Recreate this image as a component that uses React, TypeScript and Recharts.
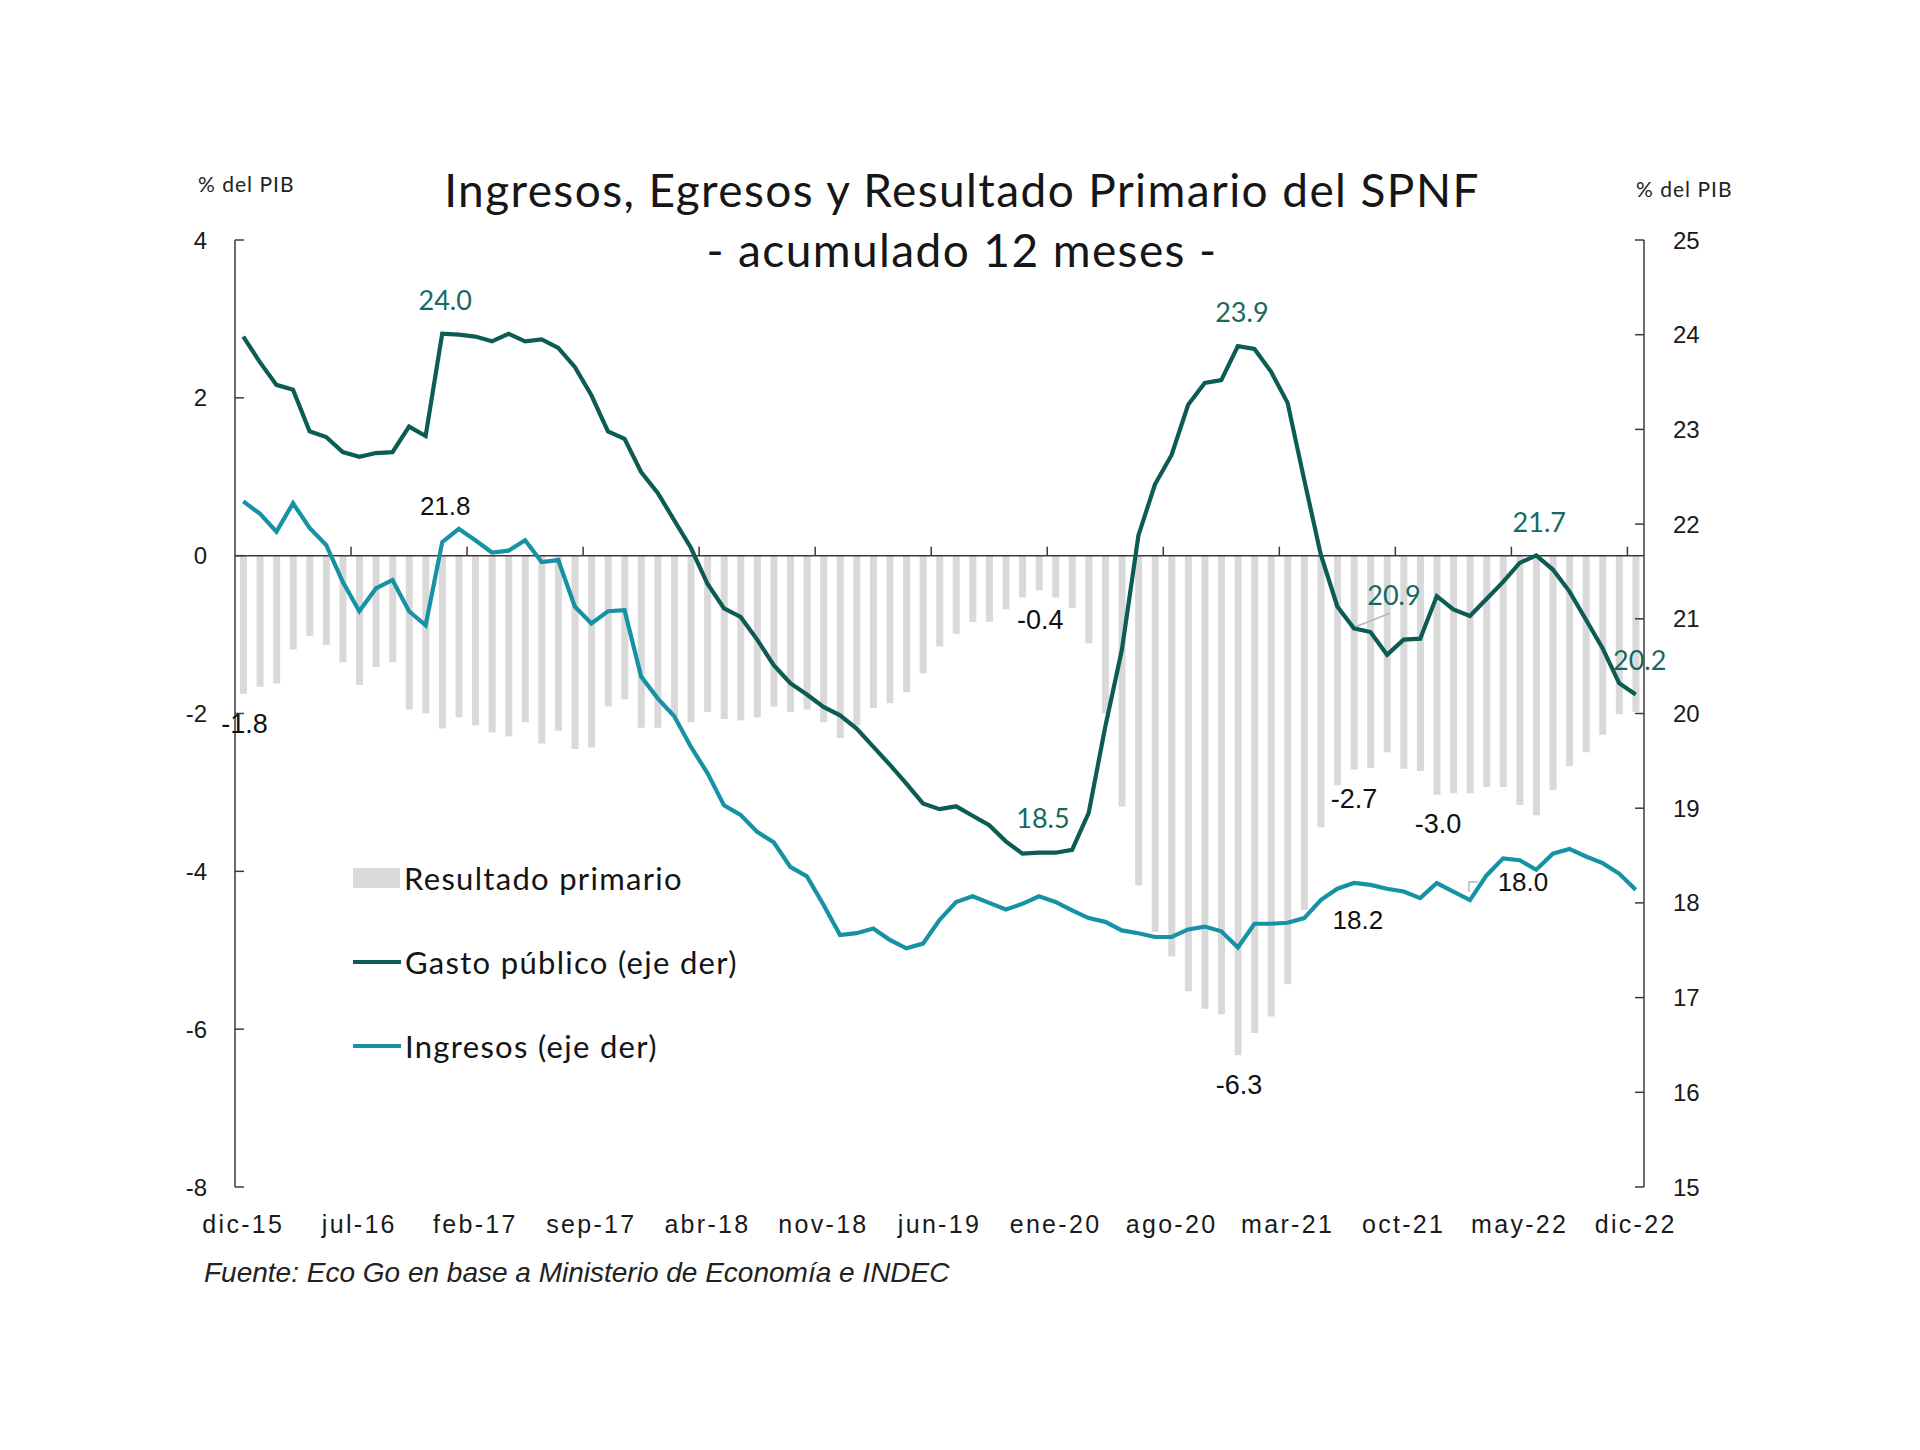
import React from 'react';
import { ComposedChart, Bar, Line, XAxis, YAxis, ReferenceLine, Legend, LabelList } from 'recharts';

// ---------- data ----------
const MONTHS = ['ene', 'feb', 'mar', 'abr', 'may', 'jun', 'jul', 'ago', 'sep', 'oct', 'nov', 'dic'];
const categories: string[] = Array.from({ length: 85 }, (_, k) => {
  const m = (11 + k) % 12;
  const yy = 15 + Math.floor((11 + k) / 12);
  return `${MONTHS[m]}-${yy}`;
});

const resultado = [
  -1.75, -1.66, -1.62, -1.19, -1.02, -1.13, -1.35, -1.64, -1.41, -1.35,
  -1.95, -2.0, -2.19, -2.05, -2.15, -2.24, -2.29, -2.11, -2.38, -2.22,
  -2.45, -2.43, -1.91, -1.82, -2.18, -2.18, -2.04, -2.11, -1.98, -2.07,
  -2.09, -2.05, -1.91, -1.98, -1.95, -2.11, -2.31, -2.15, -1.93, -1.87,
  -1.73, -1.49, -1.15, -0.99, -0.84, -0.84, -0.68, -0.53, -0.44, -0.53,
  -0.66, -1.11, -2.0, -3.18, -4.18, -4.77, -5.08, -5.52, -5.74, -5.81,
  -6.33, -6.05, -5.84, -5.43, -4.49, -3.44, -2.91, -2.71, -2.69, -2.49,
  -2.7, -2.73, -3.03, -3.01, -3.01, -2.93, -2.93, -3.16, -3.29, -2.97,
  -2.67, -2.49, -2.27, -2.01, -1.98,
];

const gasto = [
  23.98, 23.71, 23.47, 23.42, 22.98, 22.92, 22.76, 22.71, 22.75, 22.76,
  23.03, 22.93, 24.01, 24.0, 23.98, 23.93, 24.01, 23.93, 23.95, 23.86,
  23.66, 23.36, 22.98, 22.9, 22.55, 22.33, 22.04, 21.75, 21.37, 21.11,
  21.02, 20.78, 20.51, 20.32, 20.2, 20.07, 19.98, 19.84, 19.65, 19.46,
  19.26, 19.05, 18.99, 19.02, 18.92, 18.82, 18.65, 18.52, 18.53, 18.53,
  18.56, 18.95, 19.86, 20.67, 21.88, 22.42, 22.73, 23.26, 23.49, 23.52,
  23.88, 23.85, 23.61, 23.28, 22.47, 21.68, 21.13, 20.9, 20.86, 20.62,
  20.78, 20.79, 21.24, 21.1, 21.03, 21.21, 21.39, 21.59, 21.67, 21.52,
  21.29, 20.99, 20.69, 20.32, 20.2,
];

const ingresos = [
  22.24, 22.11, 21.92, 22.22, 21.96, 21.78, 21.39, 21.08, 21.32, 21.41,
  21.08, 20.93, 21.81, 21.95, 21.83, 21.7, 21.72, 21.83, 21.6, 21.62,
  21.13, 20.95, 21.08, 21.09, 20.39, 20.16, 19.97, 19.65, 19.37, 19.03,
  18.93, 18.75, 18.64, 18.38, 18.28, 17.98, 17.66, 17.68, 17.73, 17.61,
  17.52, 17.57, 17.82, 18.01, 18.07, 18.0, 17.93, 17.99, 18.07, 18.01,
  17.92, 17.84, 17.8, 17.71, 17.68, 17.64, 17.64, 17.72, 17.75, 17.7,
  17.53, 17.78, 17.78, 17.79, 17.84, 18.03, 18.15, 18.21, 18.19, 18.15,
  18.12, 18.05, 18.21, 18.12, 18.03, 18.29, 18.47, 18.45, 18.35, 18.52,
  18.57, 18.49, 18.42, 18.31, 18.14,
];

const leftTicks = [4, 2, 0, -2, -4, -6, -8];
const rightTicks = [15, 16, 17, 18, 19, 20, 21, 22, 23, 24, 25];

const SERIES_NAMES = ['Resultado primario', 'Gasto público (eje der)', 'Ingresos (eje der)'];

const rows = categories.map((cat, i) => ({
  cat,
  resultado: resultado[i],
  gasto: gasto[i],
  ingresos: ingresos[i],
}));

// annotated points (index into the series) and where their text sits
const barLabels = [
  { i: 0, dx: 1, dy: 30 },
  { i: 48, dx: 1, dy: 30 },
  { i: 60, dx: 1, dy: 30 },
  { i: 67, dx: 0, dy: 29 },
  { i: 72, dx: 1, dy: 29 },
];
const gastoLabels = [
  { i: 12, dx: 3, dy: -34 },
  { i: 48, dx: 4, dy: -35 },
  { i: 60, dx: 4, dy: -35 },
  { i: 67, dx: 40, dy: -34, leader: 'slant' },
  { i: 78, dx: 3, dy: -34 },
  { i: 84, dx: 4, dy: -35 },
];
const ingresosLabels = [
  { i: 12, dx: 3, dy: -36 },
  { i: 67, dx: 4, dy: 37 },
  { i: 74, dx: 53, dy: -18, leader: 'bracket' },
];

// ---------- layout / style ----------
const W = 1920;
const H = 1450;
const PLOT_LEFT = 235;
const PLOT_RIGHT = 1644;
const PLOT_TOP = 240;
const PLOT_BOTTOM = 1187;
const Y_AXIS_W = 80;
const X_AXIS_H = 60;
const BAND = (PLOT_RIGHT - PLOT_LEFT) / categories.length;
const ZERO_Y = PLOT_TOP + ((4 - 0) / 12) * (PLOT_BOTTOM - PLOT_TOP);

const C_GASTO = '#0d5c54';
const C_GASTO_TXT = '#16695f';
const C_ING = '#1692a5';
const C_BAR = '#d9d9d9';
const C_AXIS = '#3a3a3a';
const SANS = '"Liberation Sans", Arial, sans-serif';
const GEO = 'Lato, "Noto Sans", sans-serif';

const LeftTick = (props: any) => {
  const { x, y, payload } = props;
  return (
    <g>
      <text x={x} y={y} textAnchor="end" dominantBaseline="central" fontFamily={SANS} fontSize={24} fill="#1a1a1a">
        {payload.value}
      </text>
      <line x1={PLOT_LEFT} x2={PLOT_LEFT + 9} y1={y} y2={y} stroke={C_AXIS} strokeWidth={1.5} />
    </g>
  );
};

const RightTick = (props: any) => {
  const { x, y, payload } = props;
  return (
    <g>
      <text x={x} y={y} textAnchor="start" dominantBaseline="central" fontFamily={SANS} fontSize={24} fill="#1a1a1a">
        {payload.value}
      </text>
      <line x1={PLOT_RIGHT - 9} x2={PLOT_RIGHT} y1={y} y2={y} stroke={C_AXIS} strokeWidth={1.5} />
    </g>
  );
};

const XTick = (props: any) => {
  const { x, y, payload, index } = props;
  const bx = x - BAND / 2;
  return (
    <g>
      <text x={x} y={y + 37} textAnchor="middle" dominantBaseline="central" fontFamily={SANS} fontSize={25} letterSpacing={2.3} fill="#1a1a1a">
        {payload.value}
      </text>
      {index > 0 && <line x1={bx} x2={bx} y1={ZERO_Y} y2={ZERO_Y - 9} stroke={C_AXIS} strokeWidth={1.5} />}
    </g>
  );
};

const BarLabel = (props: any) => {
  const { x, y, width, height, index, value } = props;
  const c = barLabels.find((d) => d.i === index);
  if (!c) return null;
  const bottom = Math.max(y, y + height);
  return (
    <text x={x + width / 2 + c.dx} y={bottom + c.dy} textAnchor="middle" dominantBaseline="central" fontFamily={SANS} fontSize={27} fill="#111">
      {Number(value).toFixed(1)}
    </text>
  );
};

const makeLineLabel = (cfg: any[], color: string, family: string, size: number) => (props: any) => {
  const { x, y, index, value } = props;
  const c = cfg.find((d) => d.i === index);
  if (!c) return null;
  return (
    <g>
      {c.leader === 'slant' && <line x1={x + 3} y1={y - 2} x2={x + 36} y2={y - 15} stroke="#b8b8b8" strokeWidth={1.5} />}
      {c.leader === 'bracket' && (
        <polyline points={`${x - 1},${y - 8} ${x - 1},${y - 18} ${x + 8},${y - 18}`} fill="none" stroke="#b8b8b8" strokeWidth={1.5} />
      )}
      <text x={x + c.dx} y={y + c.dy} textAnchor="middle" dominantBaseline="central" fontFamily={family} fontSize={size} fill={color}>
        {Number(value).toFixed(1)}
      </text>
    </g>
  );
};

const LegendContent = (props: any) => {
  const { payload = [] } = props;
  const items = [...payload].sort(
    (a: any, b: any) => SERIES_NAMES.indexOf(a.value) - SERIES_NAMES.indexOf(b.value)
  );
  return (
    <div style={{ display: 'flex', flexDirection: 'column' }}>
      {items.map((p: any, k: number) => (
        <div key={k} style={{ display: 'flex', alignItems: 'center', height: 84 }}>
          {p.type === 'rect' ? (
            <div style={{ width: 47, height: 20, background: p.color }} />
          ) : (
            <div style={{ width: 48, height: 4, background: p.color }} />
          )}
          <span style={{ fontFamily: GEO, fontSize: 31, letterSpacing: 1.3, color: '#141414', marginLeft: 4 }}>{p.value}</span>
        </div>
      ))}
    </div>
  );
};

export default function App() {
  return (
    <div style={{ position: 'absolute', left: 0, top: 0, width: W, height: H, background: '#fff', overflow: 'hidden' }}>
      <div style={{ position: 'absolute', left: 0, width: W, top: 160, textAlign: 'center', fontFamily: GEO, fontSize: 46, letterSpacing: 1.4, color: '#161616', lineHeight: '60px', paddingLeft: 2 }}>
        <div>Ingresos, Egresos y Resultado Primario del SPNF</div>
        <div>- acumulado 12 meses -</div>
      </div>
      <div style={{ position: 'absolute', left: 198, top: 171, fontFamily: GEO, fontSize: 21, letterSpacing: 1, color: '#222' }}>% del PIB</div>
      <div style={{ position: 'absolute', left: 1636, top: 176, fontFamily: GEO, fontSize: 21, letterSpacing: 1, color: '#222' }}>% del PIB</div>
      <div style={{ position: 'absolute', left: 204, top: 1257, fontFamily: SANS, fontStyle: 'italic', fontSize: 28, color: '#222' }}>
        Fuente: Eco Go en base a Ministerio de Economía e INDEC
      </div>
      <div style={{ position: 'absolute', left: 0, top: 0 }}>
        <ComposedChart
          width={W}
          height={H}
          data={rows}
          barCategoryGap={0}
          margin={{
            top: PLOT_TOP,
            bottom: H - PLOT_BOTTOM - X_AXIS_H,
            left: PLOT_LEFT - Y_AXIS_W,
            right: W - PLOT_RIGHT - Y_AXIS_W,
          }}
        >
          <XAxis
            dataKey="cat"
            interval={6}
            axisLine={false}
            tickLine={false}
            tickSize={0}
            tickMargin={0}
            height={X_AXIS_H}
            tick={<XTick />}
          />
          <YAxis
            yAxisId="left"
            orientation="left"
            domain={[-8, 4]}
            ticks={leftTicks}
            width={Y_AXIS_W}
            axisLine={{ stroke: C_AXIS, strokeWidth: 1.5 }}
            tickLine={false}
            tickSize={0}
            tickMargin={28}
            tick={<LeftTick />}
            allowDataOverflow
          />
          <YAxis
            yAxisId="right"
            orientation="right"
            domain={[15, 25]}
            ticks={rightTicks}
            width={Y_AXIS_W}
            axisLine={{ stroke: C_AXIS, strokeWidth: 1.5 }}
            tickLine={false}
            tickSize={0}
            tickMargin={29}
            tick={<RightTick />}
            allowDataOverflow
          />
          <ReferenceLine yAxisId="left" y={0} stroke={C_AXIS} strokeWidth={1.5} />
          <Legend
            layout="vertical"
            align="center"
            verticalAlign="middle"
            content={<LegendContent />}
            wrapperStyle={{ left: 353, top: 836, width: 560, height: 260 }}
          />
          <Bar
            yAxisId="left"
            dataKey="resultado"
            name={SERIES_NAMES[0]}
            fill={C_BAR}
            barSize={7}
            legendType="rect"
            isAnimationActive={false}
          >
            <LabelList dataKey="resultado" content={BarLabel} />
          </Bar>
          <Line
            yAxisId="right"
            dataKey="gasto"
            name={SERIES_NAMES[1]}
            stroke={C_GASTO}
            strokeWidth={4.2}
            dot={false}
            activeDot={false}
            type="linear"
            legendType="line"
            isAnimationActive={false}
          >
            <LabelList dataKey="gasto" content={makeLineLabel(gastoLabels, C_GASTO_TXT, GEO, 27)} />
          </Line>
          <Line
            yAxisId="right"
            dataKey="ingresos"
            name={SERIES_NAMES[2]}
            stroke={C_ING}
            strokeWidth={4.2}
            dot={false}
            activeDot={false}
            type="linear"
            legendType="line"
            isAnimationActive={false}
          >
            <LabelList dataKey="ingresos" content={makeLineLabel(ingresosLabels, '#111', SANS, 26)} />
          </Line>
        </ComposedChart>
      </div>
    </div>
  );
}
